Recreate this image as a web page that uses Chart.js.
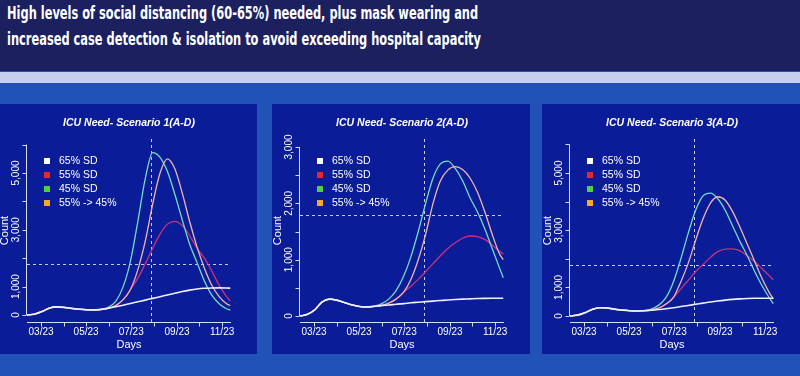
<!DOCTYPE html>
<html>
<head>
<meta charset="utf-8">
<script src="https://cdn.jsdelivr.net/npm/chart.js@4.4.1/dist/chart.umd.min.js"></script>
<style>
  html, body { margin: 0; padding: 0; }
  body { width: 800px; height: 376px; overflow: hidden; position: relative; background: #2152b8; }
  #head { position: absolute; left: 0; top: 0; width: 800px; height: 71px; background: #1c205f; }
  #band { position: absolute; left: 0; top: 72px; width: 800px; height: 11px; background: #c6d0ee; }
  .tl { position: absolute; left: 7px; color: #fff; white-space: nowrap; transform-origin: 0 0;
        font: bold 17px/17px "DejaVu Sans Condensed", "DejaVu Sans", sans-serif; }
  .panel { position: absolute; top: 104px; width: 258px; height: 250px; background: #0b1c98; }
</style>
</head>
<body>
<div id="head"></div>
<div id="band"></div>
<div class="tl" id="t1" style="top:5px">High levels of social distancing (60-65%) needed, plus mask wearing and</div>
<div class="tl" id="t2" style="top:31px">increased case detection &amp; isolation to avoid exceeding hospital capacity</div>
<div class="panel" style="left:-1px"><canvas id="c1" width="258" height="250"></canvas></div>
<div class="panel" style="left:272px"><canvas id="c2" width="258" height="250"></canvas></div>
<div class="panel" style="left:542px"><canvas id="c3" width="258" height="250"></canvas></div>
<script>
// day of year 2020 (Jan 1 = 0)
const days = [63, 73, 83, 93, 103, 113, 123, 133, 143, 153, 163, 173, 183, 193, 203,
  213, 223, 233, 243, 253, 263, 273, 283, 293, 303, 313, 323, 333, 338];

const seriesNames = ['65% SD', '55% SD', '45% SD', '55% -> 45%'];
const panelTitles = ['ICU Need- Scenario 1(A-D)', 'ICU Need- Scenario 2(A-D)', 'ICU Need- Scenario 3(A-D)'];

// scenario 1
const s1White  = [0, 30, 120, 240, 285, 270, 235, 205, 185, 180, 200, 240, 290, 345, 405, 465, 525, 585, 645, 705, 765, 825, 875, 915, 940, 952, 955, 950, 945];
const s1Red    = [0, 30, 120, 240, 285, 270, 235, 205, 185, 180, 190, 230, 330, 540, 900, 1300, 1800, 2350, 2850, 3200, 3300, 3150, 2800, 2350, 2000, 1550, 1050, 650, 500];
const s1Green  = [0, 30, 120, 240, 285, 270, 235, 205, 185, 180, 200, 270, 480, 990, 1900, 3300, 4800, 5720, 5550, 5050, 4250, 3350, 2500, 1850, 1200, 700, 400, 220, 175];
const s1Orange = [0, 30, 120, 240, 285, 270, 235, 205, 185, 180, 190, 230, 330, 540, 900, 1600, 2600, 3900, 5000, 5500, 5150, 4300, 3300, 2400, 1650, 1050, 650, 400, 330];

// scenario 2
const s2White  = [0, 30, 110, 250, 300, 280, 240, 200, 170, 160, 170, 185, 195, 210, 220, 235, 245, 255, 265, 275, 285, 293, 300, 305, 310, 313, 315, 316, 316];
const s2Red    = [0, 30, 110, 250, 300, 280, 240, 200, 170, 160, 170, 190, 230, 300, 420, 530, 650, 790, 930, 1070, 1200, 1300, 1380, 1420, 1410, 1360, 1260, 1150, 1100];
const s2Green  = [0, 30, 110, 250, 300, 280, 240, 200, 170, 160, 175, 215, 300, 450, 700, 1050, 1500, 2000, 2450, 2700, 2750, 2620, 2400, 2100, 1850, 1550, 1200, 850, 680];
const s2Orange = [0, 30, 110, 250, 300, 280, 240, 200, 170, 160, 170, 190, 230, 300, 420, 650, 1000, 1450, 2000, 2400, 2590, 2650, 2600, 2450, 2200, 1850, 1450, 1100, 1000];

// scenario 3
const s3White  = [0, 30, 110, 230, 290, 280, 240, 210, 185, 175, 185, 200, 225, 255, 290, 330, 370, 410, 450, 490, 525, 555, 580, 598, 610, 618, 620, 620, 620];
const s3Red    = [0, 30, 110, 230, 290, 280, 240, 210, 185, 175, 180, 210, 280, 420, 650, 950, 1250, 1550, 1800, 2050, 2250, 2340, 2350, 2280, 2100, 1900, 1650, 1400, 1270];
const s3Green  = [0, 30, 110, 230, 290, 280, 240, 210, 185, 175, 190, 240, 380, 650, 1200, 2000, 2900, 3700, 4200, 4300, 4100, 3700, 3150, 2600, 2100, 1550, 1050, 620, 430];
const s3Orange = [0, 30, 110, 230, 290, 280, 240, 210, 185, 175, 180, 210, 280, 420, 650, 1200, 1850, 2650, 3400, 3950, 4170, 4050, 3650, 3100, 2500, 1900, 1300, 800, 600];

const xTickDays   = [82, 113, 143, 174, 204, 235, 266, 296, 327];
const xTickLabels = ['03/23', '', '05/23', '', '07/23', '', '09/23', '', '11/23'];
const yTicksBig   = [0, 1000, 2000, 3000, 4000, 5000, 6000];
const yLabelsBig  = ['0', '1,000', '', '3,000', '', '5,000', ''];
const yTicksSmall = [0, 500, 1000, 1500, 2000, 2500, 3000];
const yLabelsSmall = ['0', '', '1,000', '', '2,000', '', '3,000'];

const capacityLine = 1800;
const interventionDay = 231;

const LINE_COLORS = ['#eef0ff', '#c8327c', '#74dcc2', '#efb6ae'];
const KEY_COLORS  = ['#ffffff', '#e8262e', '#4cd43c', '#f4a830'];
const AXIS_COLOR = '#d4dcff';
const REF_COLOR = '#c4ceff';
const FONT = '"Liberation Sans", Arial, sans-serif';

// fit title lines to the slide width
(() => {
  const t1 = document.getElementById('t1'), t2 = document.getElementById('t2');
  const k = 471 / t1.offsetWidth;
  t1.style.transform = `scaleX(${k})`;
  t2.style.transform = `scaleX(${k})`;
})();

const rStyle = {
  id: 'rStyle',
  beforeDatasetsDraw(chart, args, o) {
    const { ctx, chartArea: a, scales: { x, y } } = chart;
    ctx.save();
    ctx.strokeStyle = REF_COLOR;
    ctx.lineWidth = 1;
    ctx.setLineDash([3, 3]);
    const hy = Math.round(y.getPixelForValue(capacityLine)) + 0.5;
    const vx = Math.round(x.getPixelForValue(interventionDay)) + 0.5;
    ctx.beginPath();
    ctx.moveTo(a.left, hy); ctx.lineTo(a.right, hy);
    ctx.moveTo(vx, a.top); ctx.lineTo(vx, a.bottom);
    ctx.stroke();
    ctx.restore();
  },
  afterDraw(chart, args, o) {
    const { ctx, chartArea: a, scales: { x, y } } = chart;
    ctx.save();
    ctx.strokeStyle = AXIS_COLOR;
    ctx.fillStyle = '#ffffff';
    ctx.lineWidth = 1;

    // axes + ticks
    const ax = a.left - 0.5, bx = a.bottom + 0.5;
    ctx.beginPath();
    ctx.moveTo(ax, y.getPixelForValue(o.yTicks[0]));
    ctx.lineTo(ax, y.getPixelForValue(o.yTicks[o.yTicks.length - 1]));
    o.yTicks.forEach(v => {
      const py = Math.round(y.getPixelForValue(v)) + 0.5;
      ctx.moveTo(ax, py); ctx.lineTo(ax - 4, py);
    });
    ctx.moveTo(a.left, bx); ctx.lineTo(a.right, bx);
    xTickDays.forEach(d => {
      const px = Math.round(x.getPixelForValue(d)) + 0.5;
      ctx.moveTo(px, bx); ctx.lineTo(px, bx + 4);
    });
    ctx.stroke();

    // tick labels
    ctx.font = `10px ${FONT}`;
    ctx.textAlign = 'center';
    ctx.textBaseline = 'middle';
    xTickDays.forEach((d, i) => {
      if (xTickLabels[i]) ctx.fillText(xTickLabels[i], x.getPixelForValue(d), a.bottom + 10.5);
    });
    o.yTicks.forEach((v, i) => {
      if (!o.yLabels[i]) return;
      ctx.save();
      ctx.translate(a.left - 11, y.getPixelForValue(v));
      ctx.rotate(-Math.PI / 2);
      ctx.fillText(o.yLabels[i], 0, 0);
      ctx.restore();
    });

    // titles
    const cx = (a.left + a.right) / 2;
    ctx.font = `italic bold 10.5px ${FONT}`;
    ctx.fillText(o.title, cx, a.top - 16);
    ctx.font = `11px ${FONT}`;
    ctx.fillText('Days', cx, a.bottom + 23);
    ctx.save();
    ctx.translate(a.left - 22, (a.top + a.bottom) / 2);
    ctx.rotate(-Math.PI / 2);
    ctx.fillText('Count', 0, 0);
    ctx.restore();

    // key
    ctx.font = `10.5px ${FONT}`;
    ctx.textAlign = 'left';
    seriesNames.forEach((name, i) => {
      const ry = a.top + 22 + i * 14;
      ctx.fillStyle = KEY_COLORS[i];
      ctx.fillRect(a.left + 17, ry - 3, 6, 6);
      ctx.fillStyle = '#ffffff';
      ctx.fillText(name, a.left + 32, ry + 0.5);
    });
    ctx.restore();
  }
};

function drawPanel(id, title, series, yMin, yMax, yTicks, yLabels) {
  new Chart(document.getElementById(id), {
    type: 'line',
    data: {
      labels: days,
      datasets: series.map((vals, i) => ({
        label: seriesNames[i],
        data: vals.map((v, j) => ({ x: days[j], y: v })),
        borderColor: LINE_COLORS[i],
        borderWidth: i === 0 ? 1.6 : 1.3,
        pointRadius: 0,
        cubicInterpolationMode: 'monotone',
        fill: false,
        order: [0, 3, 2, 1][i],
      })),
    },
    options: {
      responsive: false,
      animation: false,
      events: [],
      layout: { padding: { left: 28, right: 26, top: 35, bottom: 32 } },
      plugins: {
        legend: { display: false },
        tooltip: { enabled: false },
        rStyle: { title, yTicks, yLabels },
      },
      scales: {
        x: { type: 'linear', min: 63, max: 339, display: false },
        y: { min: yMin, max: yMax, display: false },
      },
    },
    plugins: [rStyle],
  });
}

drawPanel('c1', panelTitles[0], [s1White, s1Red, s1Green, s1Orange], -246, 6197, yTicksBig, yLabelsBig);
drawPanel('c2', panelTitles[1], [s2White, s2Red, s2Green, s2Orange], -106, 3142, yTicksSmall, yLabelsSmall);
drawPanel('c3', panelTitles[2], [s3White, s3Red, s3Green, s3Orange], -210, 6190, yTicksBig, yLabelsBig);
</script>
</body>
</html>
